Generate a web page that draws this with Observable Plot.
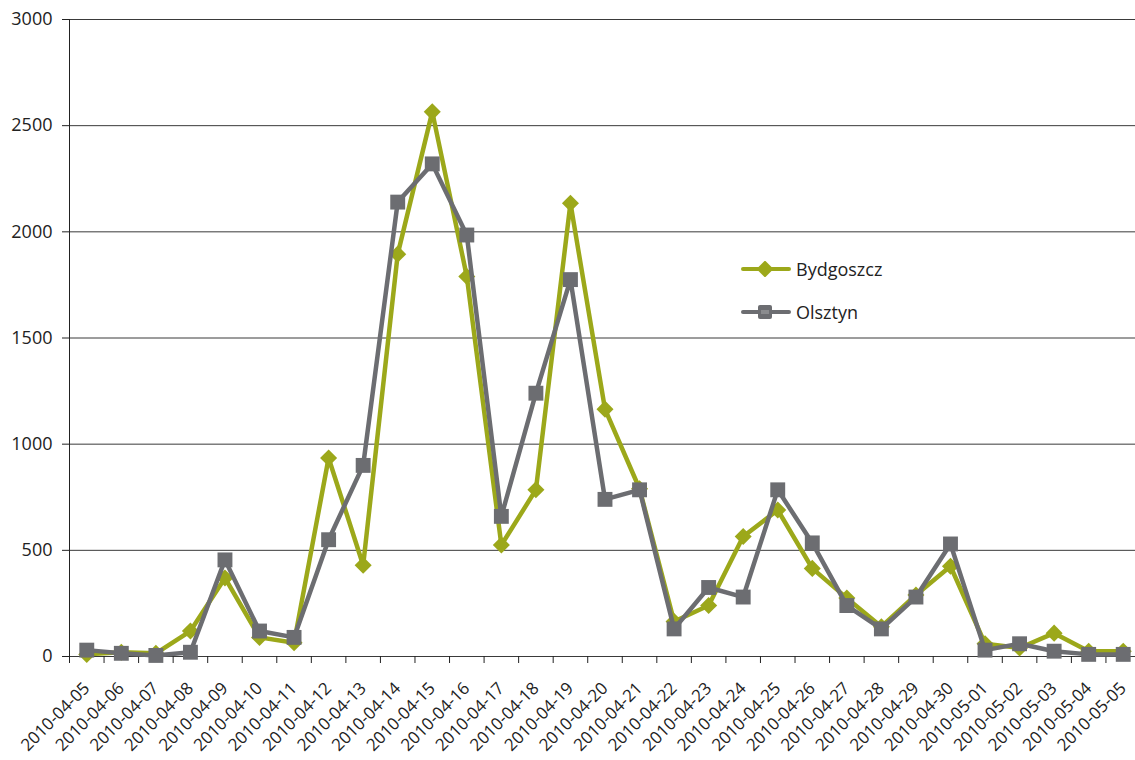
<!DOCTYPE html>
<html><head><meta charset="utf-8">
<script src="https://cdn.jsdelivr.net/npm/d3@7"></script>
<script src="https://cdn.jsdelivr.net/npm/@observablehq/plot@0.6"></script>
<style>
body{margin:0;background:#fff;}
#chart{position:relative;width:1135px;height:760px;}
#legend{position:absolute;left:741px;top:247px;font-family:"Open Sans",sans-serif;font-size:18px;color:#222;}
#legend .row{display:flex;align-items:center;height:43px;}
#legend svg{margin-right:5px;}
</style></head><body><div id="chart"><div id="legend"></div></div>
<script>
const dates = ["2010-04-05","2010-04-06","2010-04-07","2010-04-08","2010-04-09","2010-04-10","2010-04-11","2010-04-12","2010-04-13","2010-04-14","2010-04-15","2010-04-16","2010-04-17","2010-04-18","2010-04-19","2010-04-20","2010-04-21","2010-04-22","2010-04-23","2010-04-24","2010-04-25","2010-04-26","2010-04-27","2010-04-28","2010-04-29","2010-04-30","2010-05-01","2010-05-02","2010-05-03","2010-05-04","2010-05-05"];
const bydgoszcz = [10,20,15,120,370,90,65,935,430,1895,2565,1790,525,785,2135,1165,790,165,240,565,690,415,275,140,290,425,60,40,110,25,25];
const olsztyn = [30,15,5,20,455,120,90,550,900,2140,2320,1985,660,1240,1775,740,785,130,325,280,785,535,240,130,280,530,30,60,25,10,10];
const seriesNames = ["Bydgoszcz","Olsztyn"];
const seriesColors = ["#9ca81a","#6c6d71"];
const yTicks = [0,500,1000,1500,2000,2500,3000];

const rows = [];
dates.forEach((d,i)=>{
  rows.push({date:d, value:bydgoszcz[i], city:seriesNames[0]});
  rows.push({date:d, value:olsztyn[i], city:seriesNames[1]});
});
const byd = rows.filter(r=>r.city===seriesNames[0]);
const ols = rows.filter(r=>r.city===seriesNames[1]);

const left = 69, right = 1140, n = dates.length;
const bw = (right-left)/n;
const font = '"Open Sans", sans-serif';

const chart = Plot.plot({
  width: 1135, height: 760,
  marginLeft: 69, marginRight: 0, marginTop: 19, marginBottom: 104,
  style: {fontFamily: font, fontSize: "18px", color: "#222", background: "#fff"},
  x: {type: "point", domain: dates, range: [left + bw/2, right - bw/2], padding: 0, round: false},
  y: {domain: [0, 3000]},
  marks: [
    Plot.ruleY(yTicks, {stroke: "#3a3a3a", strokeWidth: 1}),
    Plot.frame({anchor: "left", stroke: "#222"}),
    Plot.ruleX(dates, {x: d=>d, dx: -bw/2, y1: 0, y2: 0, insetBottom: -7, stroke: "#222"}),
    Plot.ruleX([dates[n-1]], {x: d=>d, dx: bw/2, y1: 0, y2: 0, insetBottom: -7, stroke: "#222"}),
    Plot.axisY({ticks: yTicks, tickSize: 7, tickPadding: 10, tickFormat: d=>String(d), label: null, fontSize: 18, stroke: "#222", fill: "#222"}),
    Plot.axisX({tickSize: 0, tickRotate: -45, tickPadding: 29, label: null, fontSize: 17, fill: "#222"}),
    Plot.line(byd, {x: "date", y: "value", stroke: seriesColors[0], strokeWidth: 4.5, strokeLinejoin: "round"}),
    Plot.dot(byd, {x: "date", y: "value", symbol: "square", r: 6.8, rotate: 45, fill: seriesColors[0]}),
    Plot.line(ols, {x: "date", y: "value", stroke: seriesColors[1], strokeWidth: 4.5, strokeLinejoin: "round"}),
    Plot.dot(ols, {x: "date", y: "value", symbol: "square", r: 8.4, fill: seriesColors[1]})
  ]
});
document.getElementById("chart").prepend(chart);

const legend = document.getElementById("legend");
seriesNames.forEach((name,i)=>{
  const row = document.createElement("div");
  row.className = "row";
  const c = seriesColors[i];
  const marker = i===0
    ? `<rect x="18" y="2" width="12" height="12" fill="${c}" transform="rotate(45 24 8)"/>`
    : `<rect x="17" y="1" width="14" height="14" rx="2" fill="${c}"/><rect x="20" y="6" width="8" height="4" fill="#8a8b8e"/>`;
  row.innerHTML = `<svg width="50" height="16"><line x1="2" y1="8" x2="48" y2="8" stroke="${c}" stroke-width="4" stroke-linecap="round"/>${marker}</svg><span>${name}</span>`;
  legend.appendChild(row);
});
</script></body></html>
